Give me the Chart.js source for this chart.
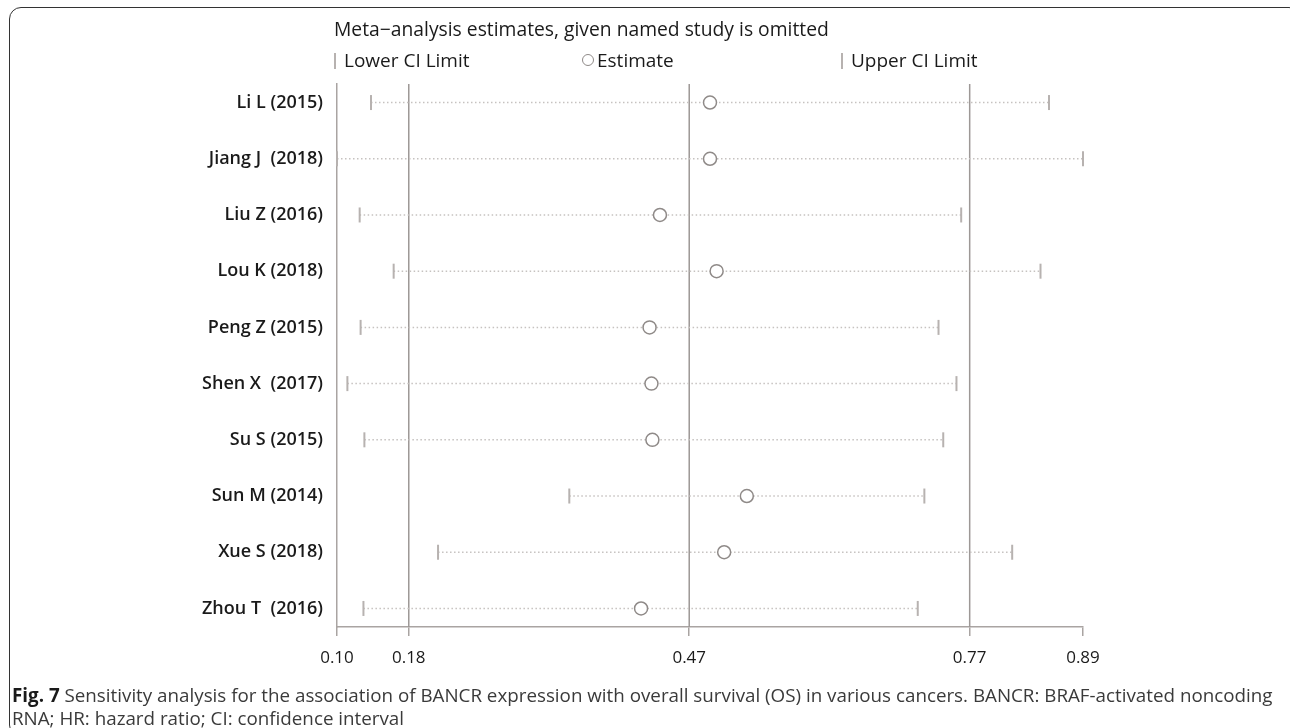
<!DOCTYPE html>
<html>
<head>
<meta charset="utf-8">
<script src="https://cdn.jsdelivr.net/npm/chart.js@4.4.1/dist/chart.umd.min.js"></script>
<style>
  html, body { margin: 0; padding: 0; background: #fff; }
  body { width: 1290px; height: 728px; position: relative; overflow: hidden; font-family: "Open Sans", sans-serif; }
  #wrap { position: absolute; left: 0; top: 0; width: 1290px; height: 728px; }
  #frame { position: absolute; left: 9px; top: 7px; width: 1292px; height: 730px; border: 1.5px solid #333; border-radius: 12px; box-sizing: border-box; pointer-events: none; }
  .txt { position: absolute; white-space: nowrap; color: #1a1a1a; }
  #title { left: 334px; top: 16px; font-size: 19.3px; line-height: 26px; }
  .leg { top: 47px; font-size: 19px; line-height: 26px; }
  .bar { display: inline-block; width: 2px; height: 16px; background: #b7b2b0; vertical-align: -2px; margin-right: 8px; }
  .ring { display: inline-block; width: 10px; height: 10px; border: 1.3px solid #8f8a88; border-radius: 50%; margin-right: 3px; vertical-align: 1px; }
  #caption { left: 12px; top: 684px; font-size: 18.8px; line-height: 23px; color: #3a3a3a; }
  #caption b { color: #1a1a1a; }
</style>
</head>
<body>
<div id="wrap"><canvas id="chart"></canvas></div>
<div id="frame"></div>
<div class="txt" id="title">Meta−analysis estimates, given named study is omitted</div>
<div class="txt leg" style="left:334px"><span class="bar"></span>Lower CI Limit</div>
<div class="txt leg" style="left:582px"><span class="ring"></span>Estimate</div>
<div class="txt leg" style="left:841px"><span class="bar"></span>Upper CI Limit</div>
<div class="txt" id="caption"><b>Fig. 7</b> Sensitivity analysis for the association of BANCR expression with overall survival (OS) in various cancers. BANCR: BRAF-activated noncoding<br>RNA; HR: hazard ratio; CI: confidence interval</div>
<script>
// Omitted-study labels, top to bottom
const studies = ["Li L (2015)", "Jiang J  (2018)", "Liu Z (2016)", "Lou K (2018)", "Peng Z (2015)",
                 "Shen X  (2017)", "Su S (2015)", "Sun M (2014)", "Xue S (2018)", "Zhou T  (2016)"];
// Pooled estimate and CI limits with each study left out
const lowerCI  = [0.136, 0.100, 0.124, 0.160, 0.125, 0.111, 0.129, 0.346, 0.207, 0.128];
const estimate = [0.495, 0.495, 0.442, 0.502, 0.431, 0.433, 0.434, 0.534, 0.510, 0.422];
const upperCI  = [0.854, 0.890, 0.761, 0.845, 0.737, 0.756, 0.742, 0.722, 0.815, 0.715];
// Full-sample pooled lower limit, estimate, upper limit
const pooled = [0.176, 0.473, 0.770];
// Axis tick positions (axis ends plus the pooled values)
const xTicks = [0.10, 0.176, 0.473, 0.770, 0.89];

const X_MIN = 0.10, X_MAX = 0.89, Y_MIN = -0.33, Y_MAX = 9.33;
const axisGrey = '#a9a4a2';

// Dotted CI segments, broken between rows
const ciSegments = [];
studies.forEach((_, i) => {
  ciSegments.push({ x: lowerCI[i], y: i }, { x: upperCI[i], y: i }, { x: upperCI[i], y: null });
});

const refLines = pooled.map(v => ({
  type: 'line',
  data: [{ x: v, y: Y_MIN }, { x: v, y: Y_MAX }],
  borderColor: '#9d9896',
  borderWidth: 1.5,
  pointRadius: 0,
  order: 5
}));

new Chart(document.getElementById('chart'), {
  type: 'scatter',
  data: {
    datasets: [
      ...refLines,
      {
        type: 'line',
        data: ciSegments,
        borderColor: '#c6c2c0',
        borderWidth: 1.5,
        borderDash: [1.5, 2.5],
        pointRadius: 0,
        spanGaps: false,
        order: 4
      },
      {
        data: lowerCI.map((v, i) => ({ x: v, y: i })),
        pointStyle: 'line',
        rotation: 90,
        radius: 7.5,
        borderColor: '#b7b2b0',
        borderWidth: 2,
        clip: false,
        order: 3
      },
      {
        data: upperCI.map((v, i) => ({ x: v, y: i })),
        pointStyle: 'line',
        rotation: 90,
        radius: 7.5,
        borderColor: '#b7b2b0',
        borderWidth: 2,
        clip: false,
        order: 3
      },
      {
        data: estimate.map((v, i) => ({ x: v, y: i })),
        pointStyle: 'circle',
        radius: 6.5,
        backgroundColor: '#ffffff',
        borderColor: '#8f8a88',
        borderWidth: 1.5,
        order: 1
      }
    ]
  },
  options: {
    responsive: true,
    maintainAspectRatio: false,
    animation: false,
    events: [],
    layout: { padding: { top: 84, right: 207, bottom: 0, left: 0 } },
    plugins: { legend: { display: false }, tooltip: { enabled: false }, title: { display: false } },
    scales: {
      x: {
        type: 'linear',
        min: X_MIN,
        max: X_MAX,
        afterBuildTicks: s => { s.ticks = xTicks.map(v => ({ value: v })); },
        afterFit: s => { s.height = 101; },
        ticks: {
          autoSkip: false,
          maxRotation: 0,
          padding: 12,
          color: '#1a1a1a',
          font: { family: 'Open Sans', size: 17 },
          callback: v => Number(v).toFixed(2)
        },
        grid: { drawOnChartArea: false, drawTicks: true, tickLength: 9, color: axisGrey, lineWidth: 1.5 },
        border: { display: true, color: axisGrey, width: 1.5 }
      },
      y: {
        type: 'linear',
        min: Y_MIN,
        max: Y_MAX,
        reverse: true,
        afterBuildTicks: s => { s.ticks = studies.map((_, i) => ({ value: i })); },
        afterFit: s => { s.width = 337; },
        ticks: {
          autoSkip: false,
          padding: 14,
          color: '#1a1a1a',
          font: { family: 'Open Sans', size: 18, weight: '600' },
          callback: v => studies[v]
        },
        grid: { display: false, drawTicks: false, tickLength: 0 },
        border: { display: true, color: axisGrey, width: 1.5 }
      }
    }
  }
});
</script>
</body>
</html>
